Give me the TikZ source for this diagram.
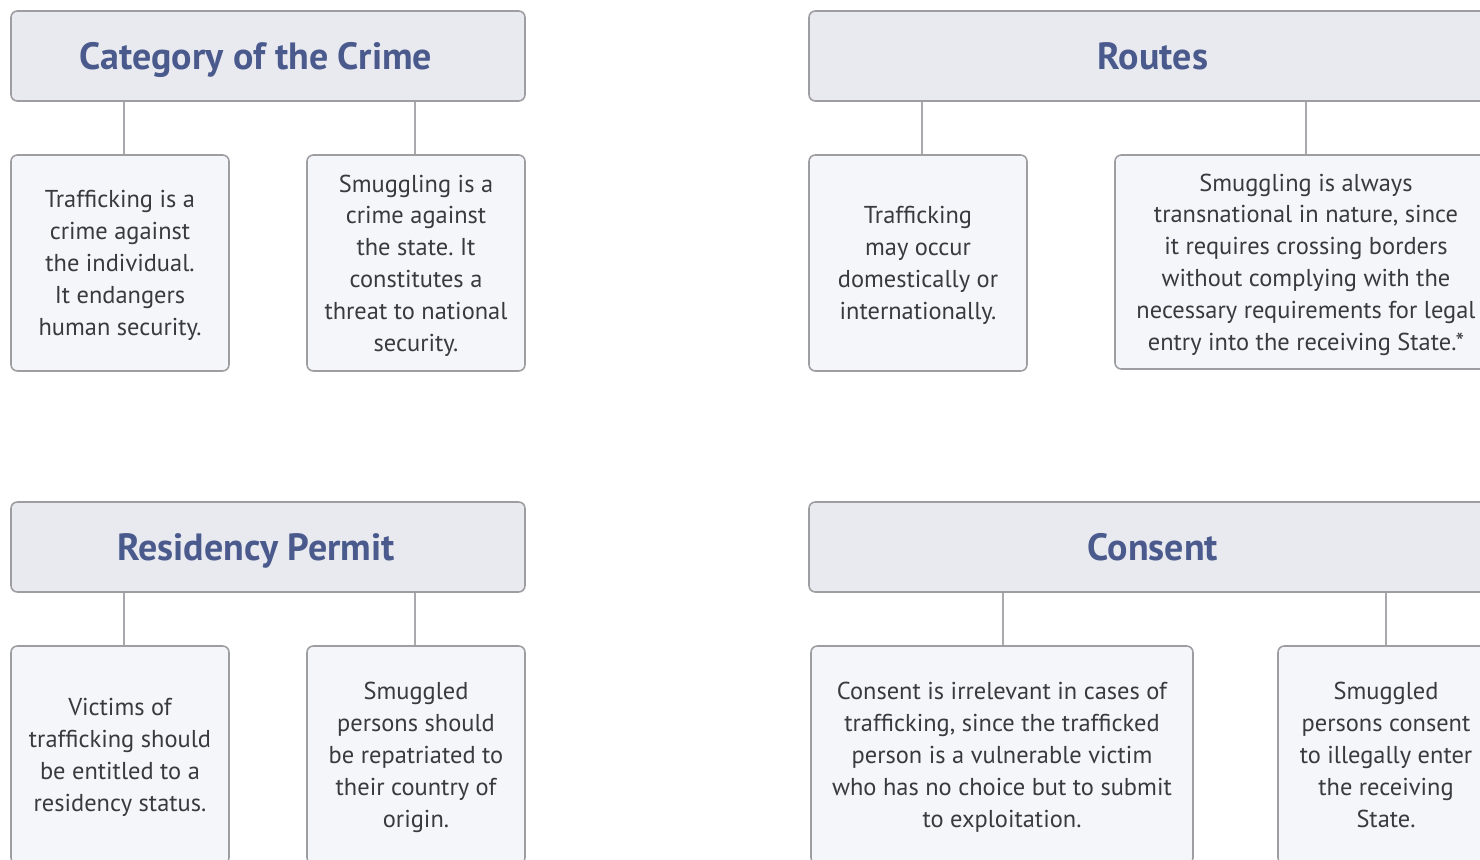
\documentclass[tikz,border=0pt]{standalone}
\usepackage{fontspec}
\setmainfont{PT Sans}
\frenchspacing
\usepackage{xcolor}
\definecolor{title-blue}{RGB}{74,90,140}
\definecolor{body-text}{RGB}{58,58,60}
\definecolor{box-line}{RGB}{158,158,162}
\definecolor{link-line}{RGB}{170,170,174}
\definecolor{head-fill}{RGB}{233,234,240}
\definecolor{leaf-fill}{RGB}{245,246,250}
\usepackage{tikz}

\begin{document}
\begin{tikzpicture}[
  head/.style={
    draw=box-line, line width=0.45pt, fill=head-fill, rounded corners=1.8pt,
    minimum width=5.14cm, minimum height=0.9cm, inner sep=0pt,
    text height=7.6pt, text depth=0pt,
    font=\fontsize{10.8}{12}\selectfont\bfseries, text=title-blue
  },
  leaf/.style={
    draw=box-line, line width=0.45pt, fill=leaf-fill, rounded corners=1.8pt,
    minimum width=2.18cm, minimum height=2.16cm, inner sep=0pt, align=center,
    text depth=0pt,
    font=\fontsize{6.95}{9.07}\selectfont, text=body-text
  },
  link/.style={
    draw=link-line, line width=0.45pt
  }
]

% Page
\useasboundingbox (0,0) rectangle (14.8,8.59);
\clip (0,0) rectangle (14.8,8.59);

% Headers
\node[head] (crime) at (2.68, 8.03) {\hspace*{-0.24cm}Category of the Crime};
\node[head, minimum width=6.88cm] (routes) at (11.53, 8.03) {Routes};
\node[head] (permit) at (2.68, 3.12) {\hspace*{-0.24cm}Residency Permit};
\node[head, minimum width=6.88cm] (consent) at (11.53, 3.12) {Consent};

% Top row
\node[leaf] (crimeT) at (1.20, 5.96) {Trafficking is a\\crime against\\the individual.\\It endangers\\human security.};
\node[leaf] (crimeS) at (4.16, 5.96) {Smuggling is a\\crime against\\the state. It\\constitutes a\\threat to national\\security.};
\node[leaf] (routesT) at (9.18, 5.96) {Trafficking\\may occur\\domestically or\\internationally.};
\node[leaf, minimum width=3.82cm, minimum height=2.14cm] (routesS) at (13.06, 5.97) {Smuggling is always\\transnational in nature, since\\it requires crossing borders\\without complying with the\\necessary requirements for legal\\entry into the receiving State.*};

% Bottom row
\node[leaf, minimum height=2.18cm] (permitT) at (1.20, 1.04) {Victims of\\trafficking should\\be entitled to a\\residency status.};
\node[leaf, minimum height=2.18cm] (permitS) at (4.16, 1.04) {Smuggled\\persons should\\be repatriated to\\their country of\\origin.};
\node[leaf, minimum width=3.82cm, minimum height=2.18cm] (consentT) at (10.02, 1.04) {Consent is irrelevant in cases of\\trafficking, since the trafficked\\person is a vulnerable victim\\who has no choice but to submit\\to exploitation.};
\node[leaf, minimum width=2.16cm, minimum height=2.18cm] (consentS) at (13.86, 1.04) {Smuggled\\persons consent\\to illegally enter\\the receiving\\State.};

% Connectors
\foreach \p/\c/\dx in {crime/crimeT/0.04, crime/crimeS/-0.01, routes/routesT/0.04, routes/routesS/0,
                       permit/permitT/0.04, permit/permitS/-0.01, consent/consentT/0.01, consent/consentS/0}
  \draw[link] ([xshift=\dx cm]\c.north) -- ([xshift=\dx cm]\c.north |- \p.south);

\end{tikzpicture}
\end{document}
